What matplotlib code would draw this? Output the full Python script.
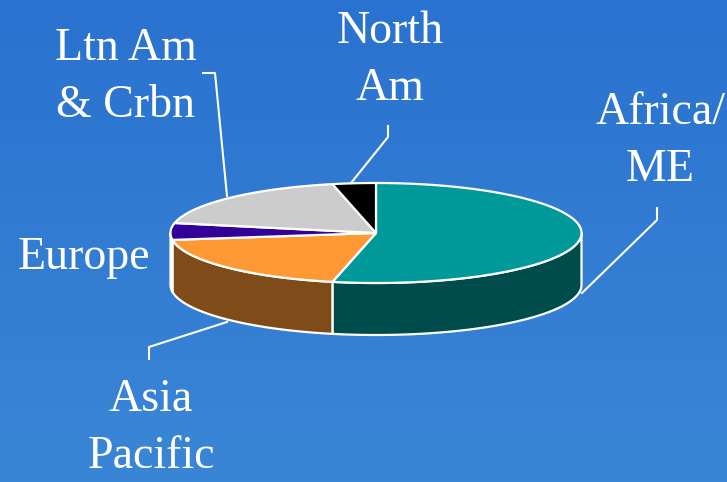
import numpy as np
import matplotlib
matplotlib.use("Agg")
import matplotlib.pyplot as plt
from matplotlib.patches import Polygon
from matplotlib.colors import LinearSegmentedColormap

# ---- data (clockwise from 12 o'clock) ----
regions = ["Africa/\nME", "Asia\nPacific", "Europe", "Ltn Am\n& Crbn", "North\nAm"]
shares = [53.4, 19.4, 5.4, 18.4, 3.4]
top_colors = ["#009999", "#FF9933", "#330099", "#CCCCCC", "#000000"]
side_colors = ["#004C4C", "#7F4C19", "#1A004C", "#666666", "#000000"]

# ---- layout ----
W, H = 727, 482
fig = plt.figure(figsize=(W / 100, H / 100), dpi=100)
ax = fig.add_axes([0, 0, 1, 1])
ax.set_xlim(0, W)
ax.set_ylim(H, 0)
ax.axis("off")

# background gradient
grad = np.linspace(0, 1, 256).reshape(-1, 1)
cmap = LinearSegmentedColormap.from_list("bg", ["#2A72CF", "#3A86D6"])
ax.imshow(grad, cmap=cmap, extent=[0, W, H, 0], aspect="auto", zorder=0)

cx, cy, rx, ry, depth = 376, 233, 205.5, 50, 52
ec = "white"
lw = 1.6

def pt(t, dy=0.0):
    return cx + rx * np.cos(np.radians(t)), cy - ry * np.sin(np.radians(t)) + dy

total = sum(shares)
angles = []
start = 90.0
for v in shares:
    end = start - 360.0 * v / total
    angles.append((start, end))
    start = end

# side walls (front half: angles in [-180, 0])
for (a0, a1), col in zip(angles, side_colors):
    hi, lo = min(a0, 0.0), max(a1, -180.0)
    if hi <= lo:
        continue
    ts = np.linspace(hi, lo, 80)
    top = [pt(t) for t in ts]
    bot = [pt(t, depth) for t in ts[::-1]]
    ax.add_patch(Polygon(top + bot, closed=True, facecolor=col, edgecolor=ec,
                         linewidth=lw, zorder=2, joinstyle="round"))

# top faces
for (a0, a1), col in zip(angles, top_colors):
    ts = np.linspace(a0, a1, 120)
    verts = [(cx, cy)] + [pt(t) for t in ts]
    ax.add_patch(Polygon(verts, closed=True, facecolor=col, edgecolor=ec,
                         linewidth=lw, zorder=3, joinstyle="round"))

# labels and leader lines
label_pos = [(660, 141), (151, 428), (84, 258), (126, 77), (390, 60)]
leaders = [
    [(657, 208), (657, 220), (582, 293)],
    [(149, 359), (149, 347), (227, 322)],
    None,
    [(203, 73), (215, 73), (227, 196)],
    [(388, 126), (388, 137), (351, 183)],
]
for name, (lx, ly), ld in zip(regions, label_pos, leaders):
    ax.text(lx, ly, name, ha="center", va="center", color="white",
            fontsize=33, family="Liberation Serif", linespacing=1.45, zorder=5)
    if ld:
        xs, ys = zip(*ld)
        ax.plot(xs, ys, color="white", lw=1.5, zorder=4)

fig.savefig("out.png", dpi=100)
